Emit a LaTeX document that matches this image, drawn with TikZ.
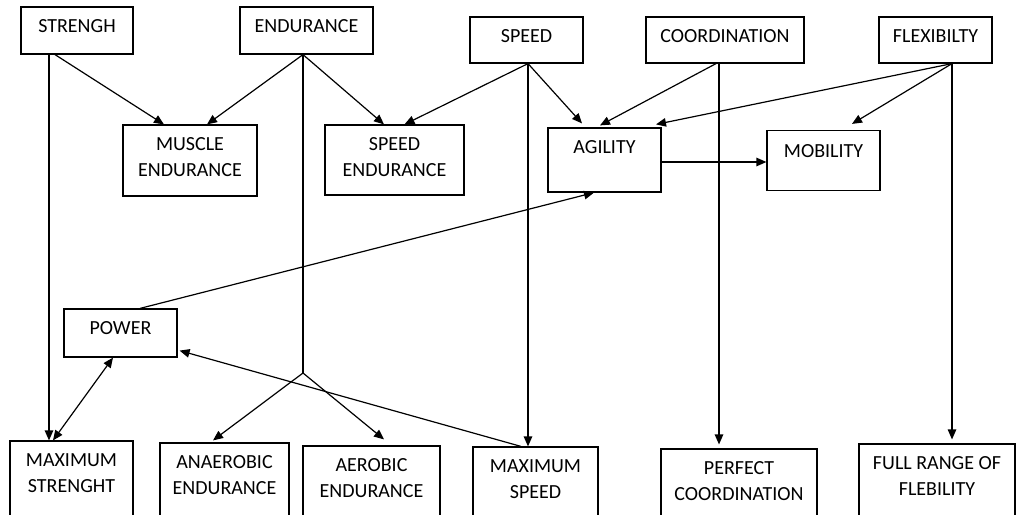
\documentclass[tikz,border=0pt]{standalone}
\usepackage{fontspec}
\setmainfont{Carlito}
\usetikzlibrary{arrows.meta,calc}
\tikzset{
  box/.style={draw, line width=1.2pt, rectangle, inner sep=0pt},
  lbl/.style={anchor=north, inner sep=0pt, yshift=-13pt, label distance=0pt, align=center,
              font=\fontsize{20}{26}\selectfont, text=black},
  conn/.style={line width=1.2pt},
  arr/.style={conn, -{Triangle[length=10pt,width=8.5pt]}},
  arrtwo/.style={conn, {Triangle[length=10pt,width=8.5pt]}-{Triangle[length=10pt,width=8.5pt]}}
}
\begin{document}
\begin{tikzpicture}[x=1pt,y=-1pt]
\useasboundingbox (0,0) rectangle (1016,514);
\clip (0,0) rectangle (1016,514);
\fill[white] (0,0) rectangle (1016,514);
% top row
\node[box, minimum width=112pt, minimum height=47pt, label={[lbl]north:STRENGH}] (str) at (77,30.5) {};
\node[box, minimum width=133pt, minimum height=47pt, label={[lbl]north:ENDURANCE}] (end) at (306.5,30.5) {};
\node[box, minimum width=113pt, minimum height=46pt, label={[lbl]north:SPEED}] (spd) at (526.5,40) {};
\node[box, minimum width=158pt, minimum height=46pt, label={[lbl]north:COORDINATION}] (coo) at (725,40) {};
\node[box, minimum width=113pt, minimum height=46pt, label={[lbl]north:FLEXIBILTY}] (flx) at (935.5,40) {};
% second row
\node[box, minimum width=134pt, minimum height=71pt, label={[lbl]north:MUSCLE\\ENDURANCE}] (mus) at (190,160.5) {};
\node[box, minimum width=139pt, minimum height=70pt, label={[lbl]north:SPEED\\ENDURANCE}] (spe) at (394.5,160) {};
\node[box, minimum width=113pt, minimum height=64pt, label={[lbl]north:AGILITY}] (agi) at (604.5,160) {};
\node[box, minimum width=113pt, minimum height=60pt, label={[lbl, yshift=-1.5pt]north:MOBILITY}] (mob) at (823.5,160.5) {};
% power
\node[box, minimum width=113pt, minimum height=48pt, label={[lbl]north:POWER}] (pow) at (120.5,333) {};
% bottom row
\node[box, minimum width=123pt, minimum height=99pt, label={[lbl]north:MAXIMUM\\STRENGHT}] (mxs) at (71.5,490.5) {};
\node[box, minimum width=129pt, minimum height=97pt, label={[lbl]north:ANAEROBIC\\ENDURANCE}] (ana) at (224.5,491.5) {};
\node[box, minimum width=137pt, minimum height=94pt, label={[lbl]north:AEROBIC\\ENDURANCE}] (aer) at (371.5,493) {};
\node[box, minimum width=125pt, minimum height=93pt, label={[lbl]north:MAXIMUM\\SPEED}] (msp) at (535.5,493.5) {};
\node[box, minimum width=156pt, minimum height=91pt, label={[lbl]north:PERFECT\\COORDINATION}] (pco) at (739,494.5) {};
\node[box, minimum width=156pt, minimum height=96pt, label={[lbl]north:FULL RANGE OF\\FLEBILITY}] (frf) at (937,492) {};
% connectors
\draw[arr] ($(str.south)+(-22,0)$) -- ($(mus.north)+(-26,0)$);
\draw[arr] ($(str.south)+(-28,0)$) -- ($(mxs.north)+(-22.5,0)$);
\draw[arr] ($(end.south)+(-3.5,0)$) -- ($(mus.north)+(17,0)$);
\draw[arr] ($(end.south)+(-3.5,0)$) -- ($(spe.north)+(-10.5,0)$);
\coordinate (ej) at (303,373);
\draw[conn] ($(end.south)+(-3.5,0)$) -- (ej);
\draw[arr] (ej) -- ($(ana.north)+(-11.5,-2)$);
\draw[arr] (ej) -- ($(aer.north)+(12.5,-6)$);
\draw[arr] ($(spd.south)+(1.5,0)$) -- ($(spe.north)+(10,0)$);
\draw[arr] ($(spd.south)+(1.5,0)$) -- ($(agi.north)+(-22.5,-4)$);
\draw[arr] ($(spd.south)+(1.5,0)$) -- ($(msp.north)+(-7.5,0)$);
\draw[arr] ($(coo.south)+(-9,0)$) -- ($(agi.north)+(-4.5,-2)$);
\draw[arr] ($(coo.south)+(-6,-1)$) -- ($(pco.north)+(-20,-4)$);
\draw[arr] ($(flx.south)+(16.5,0)$) -- ($(agi.north)+(51.5,-3)$);
\draw[arr] ($(flx.south)+(16.5,0)$) -- ($(mob.north)+(28.5,-6)$);
\draw[arr] ($(flx.south)+(16.5,0)$) -- ($(frf.north)+(15,-4)$);
\draw[arr] ($(agi.east)+(0,2)$) -- ($(mob.west)+(0,1.5)$);
\draw[arr] ($(pow.north)+(19.5,0)$) -- ($(agi.south)+(-10.5,0)$);
\draw[arrtwo] ($(mxs.north)+(-18.5,0)$) -- ($(pow.south)+(-7.5,0)$);
\draw[arr] ($(msp.north)+(-14.5,0)$) -- ($(pow.south east)+(2,-7)$);
\end{tikzpicture}
\end{document}
